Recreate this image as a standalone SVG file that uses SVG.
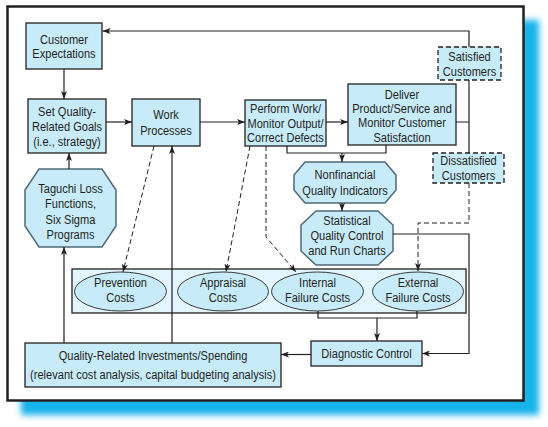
<svg xmlns="http://www.w3.org/2000/svg" width="548" height="427" viewBox="0 0 548 427">
<defs>
<filter id="blur" x="-10%" y="-10%" width="120%" height="120%"><feGaussianBlur stdDeviation="3"/></filter>
<marker id="ah" viewBox="0 0 8 6" markerWidth="8" markerHeight="6" refX="8" refY="3" orient="auto" markerUnits="userSpaceOnUse"><path d="M0,0 L8,3 L0,6 L2,3 Z" fill="#231f20"/></marker>
</defs>
<style>
.box{fill:#c8ebfa;stroke:#231f20;stroke-width:1.3}
.dbox{fill:#c8ebfa;stroke:#231f20;stroke-width:1.3;stroke-dasharray:5 3}
.oct{fill:#c8ebfa;stroke:#506874;stroke-width:1.5}
.ell{fill:#c8ebfa;stroke:#3a3a3a;stroke-width:1}
.cont{fill:#e3f5fd;stroke:#231f20;stroke-width:1.3}
text{font-family:"Liberation Sans",Arial,sans-serif;font-size:13.5px;fill:#231f20;text-anchor:middle;transform-box:fill-box;transform-origin:center;transform:scaleX(0.82)}
.ln{fill:none;stroke:#231f20;stroke-width:1.2}
.dl{fill:none;stroke:#231f20;stroke-width:1;stroke-dasharray:5 3}
.arr{marker-end:url(#ah)}
</style>
<rect x="21" y="20" width="518" height="395" fill="#14b4ea" filter="url(#blur)"/>
<rect x="7.5" y="6.5" width="516" height="394" fill="#ffffff" stroke="#231f20" stroke-width="2.5"/>

<g id="customer-expectations"><rect class="box" x="26" y="23" width="76" height="46"/><text x="64" y="44.5">Customer</text><text x="64" y="58.5">Expectations</text></g>
<g id="set-goals"><rect class="box" x="28" y="99" width="78" height="54"/><text x="67" y="116.5">Set Quality-</text><text x="67" y="131.5">Related Goals</text><text x="67" y="146.5">(i.e., strategy)</text></g>
<g id="work-processes"><rect class="box" x="132" y="99" width="68" height="47"/><text x="166" y="119.5">Work</text><text x="166" y="135">Processes</text></g>
<g id="perform-work"><rect class="box" x="245" y="100" width="81" height="46"/><text x="285.5" y="113.5">Perform Work/</text><text x="285.5" y="127.8">Monitor Output/</text><text x="285.5" y="142.5">Correct Defects</text></g>
<g id="deliver"><rect class="box" x="348" y="84" width="108" height="61"/><text x="402" y="98.8">Deliver</text><text x="402" y="112.8">Product/Service and</text><text x="402" y="127.2">Monitor Customer</text><text x="402" y="141.8">Satisfaction</text></g>
<g id="satisfied"><rect class="dbox" x="438" y="47" width="63" height="33"/><text x="469.5" y="61.2">Satisfied</text><text x="469.5" y="75.6">Customers</text></g>
<g id="dissatisfied"><rect class="dbox" x="433" y="153" width="71" height="30"/><text x="468.5" y="165.2">Dissatisfied</text><text x="468.5" y="180.5">Customers</text></g>
<g id="taguchi"><polygon class="oct" points="39,169 102,169 116,190 116,226 102,247 39,247 25,226 25,190"/><text x="70.5" y="193.5">Taguchi Loss</text><text x="70.5" y="208.5">Functions,</text><text x="70.5" y="223.8">Six Sigma</text><text x="70.5" y="238.8">Programs</text></g>
<g id="nonfinancial"><polygon class="oct" points="305,162 385,162 396,175 396,190 385,203 305,203 294,190 294,175"/><text x="345" y="179.5">Nonfinancial</text><text x="345" y="195.2">Quality Indicators</text></g>
<g id="statistical"><polygon class="oct" points="316,211 378,211 393,225 393,251 378,265 316,265 301,251 301,225"/><text x="347" y="225.2">Statistical</text><text x="347" y="240.5">Quality Control</text><text x="347" y="255.2">and Run Charts</text></g>
<g id="costs"><rect class="cont" x="72" y="269" width="394" height="44"/>
<ellipse class="ell" cx="120.5" cy="291.5" rx="46" ry="19.5"/><text x="120.5" y="287.2">Prevention</text><text x="120.5" y="301.8">Costs</text>
<ellipse class="ell" cx="223" cy="291.5" rx="45.5" ry="19.5"/><text x="223" y="287.2">Appraisal</text><text x="223" y="301.8">Costs</text>
<ellipse class="ell" cx="317.5" cy="291.5" rx="46" ry="19.5"/><text x="317.5" y="287.2">Internal</text><text x="317.5" y="301.8">Failure Costs</text>
<ellipse class="ell" cx="418" cy="291.5" rx="45.5" ry="19.5"/><text x="418" y="287.2">External</text><text x="418" y="301.8">Failure Costs</text></g>
<g id="diagnostic"><rect class="box" x="311" y="341" width="111" height="25"/><text x="366.5" y="358">Diagnostic Control</text></g>
<g id="investments"><rect class="box" x="25" y="343" width="256" height="44"/><text x="153" y="359.7">Quality-Related Investments/Spending</text><text x="153" y="379.2">(relevant cost analysis, capital budgeting analysis)</text></g>

<g id="connectors">
<path class="ln" d="M456,122 H469 M469,80 V153"/>
<path class="ln arr" d="M469,47 V31 H102.5"/>
<path class="dl arr" d="M469,183 V223 H418 V271"/>
<path class="ln arr" d="M64,69 V99"/>
<path class="ln arr" d="M106,122 H132"/>
<path class="ln arr" d="M200,122 H245"/>
<path class="ln arr" d="M326,122 H348"/>
<path class="ln" d="M287,146 V153 H386 V145"/>
<path class="ln arr" d="M342,153 V162"/>
<path class="ln arr" d="M342,203 V211"/>
<path class="ln arr" d="M393,234 H469 V353.5 H422"/>
<path class="ln" d="M318,311 V318 H417 V311"/>
<path class="ln arr" d="M377,318 V341"/>
<path class="ln arr" d="M311,354.5 H281"/>
<path class="ln arr" d="M64,343 V247"/>
<path class="ln arr" d="M69,169 V153"/>
<path class="ln arr" d="M172,343 V146"/>
<path class="dl arr" d="M154,146 L123,272"/>
<path class="dl arr" d="M250,146 L226,272"/>
<path class="dl arr" d="M266,146 V237 L296,272"/>
</g>
</svg>
